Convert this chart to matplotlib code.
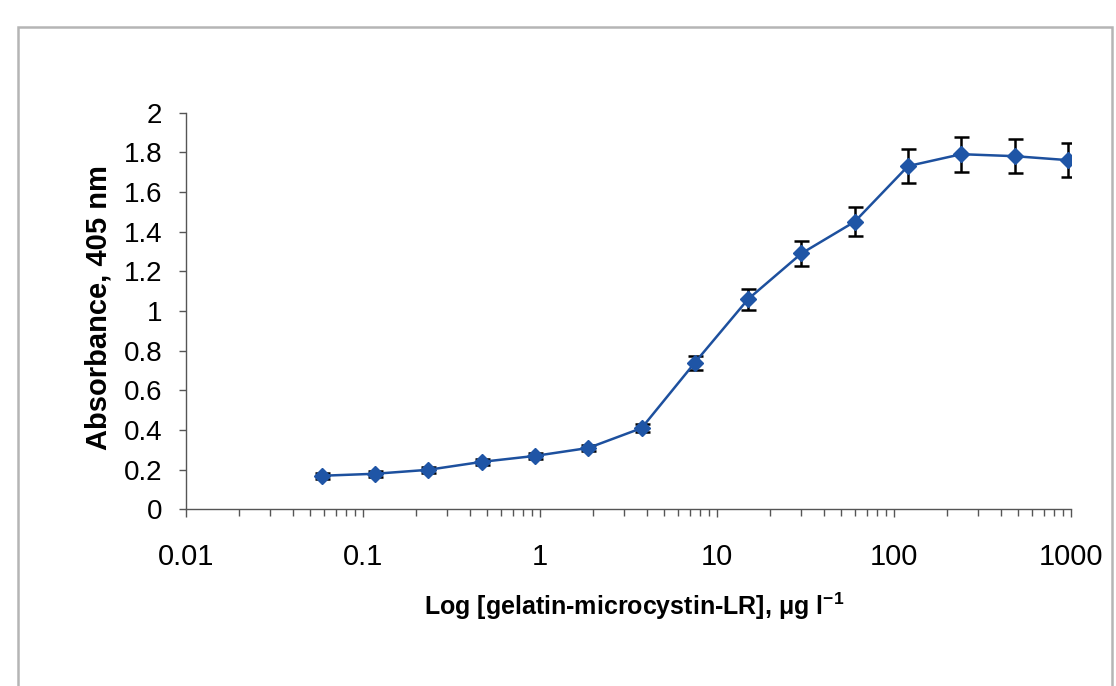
import matplotlib
matplotlib.use("Agg")
import matplotlib.pyplot as plt
from matplotlib.patches import Rectangle

plt.rcParams['font.family'] = ['Liberation Sans', 'DejaVu Sans']
plt.rcParams['mathtext.fontset'] = 'custom'
plt.rcParams['mathtext.rm'] = 'Liberation Sans:bold'
plt.rcParams['mathtext.default'] = 'rm'

# gelatin-microcystin-LR concentration (ug/l), two-fold dilutions
conc = [0.0586, 0.117, 0.234, 0.469, 0.938, 1.875, 3.75, 7.5, 15, 30, 60, 120, 240, 480, 960]
absorb = [0.17, 0.18, 0.20, 0.24, 0.27, 0.31, 0.41, 0.74, 1.06, 1.29, 1.45, 1.73, 1.79, 1.78, 1.76]
err = [0.015, 0.015, 0.015, 0.015, 0.015, 0.015, 0.022, 0.035, 0.053, 0.063, 0.073, 0.084, 0.088, 0.087, 0.086]

xticks = [0.01, 0.1, 1, 10, 100, 1000]
xtick_labels = ['0.01', '0.1', '1', '10', '100', '1000']
yticks = [0, 0.2, 0.4, 0.6, 0.8, 1, 1.2, 1.4, 1.6, 1.8, 2]
ytick_labels = ['0', '0.2', '0.4', '0.6', '0.8', '1', '1.2', '1.4', '1.6', '1.8', '2']

fig = plt.figure(figsize=(11.16, 6.86), dpi=100)
ax = fig.add_axes([186/1116, 0.2573, 885/1116, 0.5787])

ax.errorbar(conc, absorb, yerr=err, fmt='none', ecolor='black',
            elinewidth=1.8, capsize=5.4, capthick=1.8, zorder=2)
ax.plot(conc, absorb, color='#1d509e', lw=1.8, marker='D', markersize=8.5,
        markerfacecolor='#1f55a6', markeredgecolor='#1f55a6', zorder=3)

ax.set_xscale('log')
ax.set_xlim(0.01, 1000)
ax.set_ylim(0, 2)
ax.set_xticks(xticks)
ax.set_xticklabels(xtick_labels, fontsize=21)
ax.set_yticks(yticks)
ax.set_yticklabels(ytick_labels, fontsize=20)

for s in ['top', 'right']:
    ax.spines[s].set_visible(False)
for s in ['left', 'bottom']:
    ax.spines[s].set_color('#555555')
    ax.spines[s].set_linewidth(1.0)

ax.tick_params(axis='x', which='major', direction='out', length=6, width=1,
               color='#555555', pad=18)
ax.tick_params(axis='x', which='minor', direction='out', length=5, width=1,
               color='#555555')
ax.tick_params(axis='y', which='major', direction='out', length=5, width=1,
               color='#555555', pad=12)

ax.set_xlabel(r'Log [gelatin-microcystin-LR], μg l$^{-1}$', fontsize=18,
              fontweight='bold', va='center')
ax.xaxis.set_label_coords(0.506, -0.243)
ax.set_ylabel('Absorbance, 405 nm', fontsize=21, fontweight='bold', va='center')
ax.yaxis.set_label_coords(-0.099, 0.508)

# chart area border
fig.add_artist(Rectangle((18/1116, -0.05), (1112-18)/1116, 1.05 - 27/686,
                         transform=fig.transFigure, fill=False,
                         edgecolor='#b5b5b5', lw=1.8))

fig.savefig('out.png', dpi=100)
